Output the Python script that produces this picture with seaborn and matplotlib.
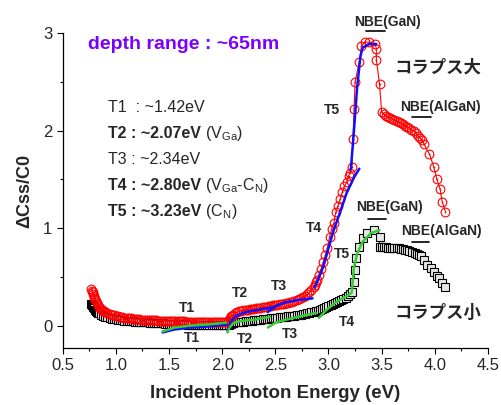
import matplotlib
matplotlib.use('Agg')
import matplotlib.pyplot as plt
import seaborn as sns

# collapse large (red circles)
E_red = [
    0.77, 0.775, 0.78, 0.785, 0.79, 0.795, 0.80, 0.81, 0.82, 0.83,
    0.84, 0.85, 0.86, 0.87, 0.88, 0.89, 0.90, 0.92, 0.94, 0.96,
    0.98, 1.00, 1.02, 1.04, 1.06, 1.08, 1.10, 1.12, 1.14, 1.16,
    1.18, 1.20, 1.22, 1.24, 1.26, 1.28, 1.30, 1.32, 1.34, 1.36,
    1.38, 1.40, 1.42, 1.44, 1.46, 1.48, 1.50, 1.52, 1.54, 1.56,
    1.58, 1.60, 1.62, 1.64, 1.66, 1.68, 1.70, 1.72, 1.74, 1.76,
    1.78, 1.80, 1.82, 1.84, 1.86, 1.88, 1.90, 1.92, 1.94, 1.96,
    1.98, 2.00, 2.02, 2.04, 2.05, 2.06, 2.07, 2.08, 2.09, 2.10,
    2.12, 2.14, 2.16, 2.18, 2.20, 2.22, 2.24, 2.26, 2.28, 2.30,
    2.32, 2.34, 2.36, 2.38, 2.40, 2.42, 2.44, 2.46, 2.48, 2.50,
    2.52, 2.54, 2.56, 2.58, 2.60, 2.62, 2.64, 2.66, 2.68, 2.70,
    2.72, 2.74, 2.76, 2.78, 2.80, 2.82, 2.84, 2.86, 2.87, 2.88,
    2.89, 2.91, 2.93, 2.95, 2.97, 2.99, 3.01, 3.03, 3.05, 3.07,
    3.09, 3.11, 3.13, 3.15, 3.17, 3.19, 3.20, 3.22, 3.23, 3.24,
    3.25, 3.29, 3.31, 3.34, 3.38, 3.44, 3.45, 3.45, 3.48, 3.50,
    3.52, 3.54, 3.56, 3.58, 3.60, 3.62, 3.64, 3.66, 3.68, 3.70,
    3.72, 3.74, 3.76, 3.78, 3.80, 3.82, 3.84, 3.86, 3.88, 3.90,
    3.95, 3.99, 4.02, 4.05, 4.07, 4.10]
y_red = [
    0.38, 0.36, 0.34, 0.32, 0.30, 0.285, 0.27, 0.25, 0.23, 0.21,
    0.195, 0.18, 0.17, 0.162, 0.155, 0.147, 0.14, 0.13, 0.12, 0.11,
    0.105, 0.10, 0.095, 0.09, 0.086, 0.082, 0.079, 0.076, 0.073, 0.071,
    0.068, 0.066, 0.064, 0.062, 0.061, 0.06, 0.058, 0.057, 0.055, 0.054,
    0.053, 0.052, 0.05, 0.049, 0.049, 0.048, 0.047, 0.047, 0.046, 0.045,
    0.045, 0.044, 0.043, 0.043, 0.042, 0.041, 0.041, 0.04, 0.04, 0.04,
    0.039, 0.038, 0.038, 0.038, 0.037, 0.037, 0.037, 0.036, 0.036, 0.036,
    0.035, 0.035, 0.035, 0.037, 0.045, 0.06, 0.08, 0.095, 0.103, 0.11,
    0.125, 0.135, 0.145, 0.152, 0.156, 0.16, 0.163, 0.166, 0.17, 0.173,
    0.177, 0.18, 0.183, 0.187, 0.19, 0.196, 0.201, 0.205, 0.208, 0.212,
    0.215, 0.218, 0.222, 0.225, 0.232, 0.237, 0.24, 0.247, 0.253, 0.26,
    0.27, 0.28, 0.29, 0.30, 0.32, 0.34, 0.365, 0.40, 0.42, 0.445,
    0.47, 0.52, 0.58, 0.65, 0.72, 0.80, 0.91, 0.99, 1.05, 1.17,
    1.23, 1.30, 1.37, 1.43, 1.47, 1.54, 1.57, 1.63, 1.91, 2.22,
    2.50, 2.71, 2.87, 2.91, 2.91, 2.89, 2.84, 2.73, 2.48, 2.19,
    2.17, 2.15, 2.14, 2.13, 2.12, 2.11, 2.10, 2.09, 2.08, 2.07,
    2.05, 2.04, 2.03, 2.01, 2.00, 1.98, 1.95, 1.93, 1.90, 1.86,
    1.76, 1.63, 1.50, 1.40, 1.27, 1.17]

# collapse small (black squares)
E_blk = [
    0.77, 0.775, 0.78, 0.785, 0.79, 0.80, 0.81, 0.82, 0.83, 0.84,
    0.86, 0.88, 0.90, 0.92, 0.94, 0.96, 0.98, 1.00, 1.02, 1.04,
    1.06, 1.08, 1.10, 1.12, 1.14, 1.16, 1.18, 1.20, 1.22, 1.24,
    1.26, 1.28, 1.30, 1.32, 1.34, 1.36, 1.38, 1.40, 1.42, 1.44,
    1.46, 1.48, 1.50, 1.52, 1.54, 1.56, 1.58, 1.60, 1.62, 1.64,
    1.66, 1.68, 1.70, 1.72, 1.74, 1.76, 1.78, 1.80, 1.82, 1.84,
    1.86, 1.88, 1.90, 1.92, 1.94, 1.96, 1.98, 2.00, 2.02, 2.04,
    2.06, 2.08, 2.10, 2.12, 2.14, 2.16, 2.18, 2.20, 2.22, 2.24,
    2.26, 2.28, 2.30, 2.32, 2.34, 2.36, 2.38, 2.40, 2.42, 2.44,
    2.46, 2.48, 2.50, 2.52, 2.54, 2.56, 2.58, 2.60, 2.62, 2.64,
    2.66, 2.68, 2.70, 2.72, 2.74, 2.76, 2.78, 2.80, 2.82, 2.84,
    2.86, 2.88, 2.90, 2.92, 2.94, 2.96, 2.98, 3.00, 3.02, 3.04,
    3.06, 3.08, 3.10, 3.12, 3.14, 3.16, 3.18, 3.20, 3.22, 3.24,
    3.25, 3.26, 3.29, 3.32, 3.36, 3.43, 3.48, 3.48, 3.50, 3.52,
    3.54, 3.56, 3.58, 3.60, 3.62, 3.64, 3.66, 3.68, 3.70, 3.72,
    3.74, 3.76, 3.79, 3.81, 3.83, 3.85, 3.87, 3.90, 3.93, 3.96,
    3.99, 4.02, 4.04, 4.07, 4.10]
y_blk = [
    0.22, 0.21, 0.20, 0.19, 0.18, 0.165, 0.15, 0.14, 0.13, 0.125,
    0.11, 0.10, 0.09, 0.084, 0.078, 0.072, 0.068, 0.065, 0.061, 0.058,
    0.055, 0.052, 0.05, 0.047, 0.045, 0.043, 0.041, 0.04, 0.038, 0.036,
    0.035, 0.033, 0.032, 0.03, 0.029, 0.027, 0.026, 0.025, 0.023, 0.022,
    0.021, 0.02, 0.019, 0.018, 0.017, 0.016, 0.015, 0.014, 0.013, 0.012,
    0.012, 0.011, 0.011, 0.01, 0.009, 0.008, 0.008, 0.007, 0.007, 0.006,
    0.006, 0.005, 0.005, 0.004, 0.004, 0.003, 0.003, 0.002, 0.002, 0.002,
    0.01, 0.02, 0.027, 0.032, 0.035, 0.037, 0.04, 0.042, 0.045, 0.047,
    0.05, 0.052, 0.055, 0.057, 0.06, 0.062, 0.065, 0.067, 0.07, 0.072,
    0.075, 0.077, 0.08, 0.082, 0.085, 0.087, 0.09, 0.092, 0.095, 0.097,
    0.10, 0.102, 0.105, 0.107, 0.11, 0.115, 0.12, 0.125, 0.13, 0.135,
    0.14, 0.145, 0.15, 0.16, 0.17, 0.18, 0.19, 0.20, 0.21, 0.22,
    0.23, 0.24, 0.25, 0.26, 0.27, 0.285, 0.30, 0.32, 0.35, 0.45,
    0.57, 0.69, 0.81, 0.90, 0.95, 0.98, 0.91, 0.81, 0.81, 0.81,
    0.81, 0.80, 0.80, 0.80, 0.80, 0.80, 0.80, 0.79, 0.79, 0.78,
    0.78, 0.77, 0.76, 0.75, 0.74, 0.725, 0.71, 0.67, 0.62, 0.59,
    0.55, 0.51, 0.49, 0.44, 0.40]

# fitted segments (blue -> red data, green -> black data)
blue_fits = [
    ([1.44, 1.55, 1.70, 1.85, 2.04], [-0.07, -0.04, -0.02, -0.01, 0.01]),
    ([2.05, 2.07, 2.09, 2.12, 2.17, 2.23, 2.33, 2.43, 2.50],
     [-0.05, 0.00, 0.05, 0.09, 0.12, 0.14, 0.16, 0.18, 0.19]),
    ([2.43, 2.50, 2.60, 2.70, 2.85], [0.14, 0.20, 0.24, 0.26, 0.28]),
    ([2.87, 2.95, 3.04, 3.12, 3.17, 3.24, 3.29], [0.39, 0.60, 0.95, 1.20, 1.36, 1.52, 1.61]),
    ([3.21, 3.24, 3.27, 3.30, 3.32, 3.38, 3.45], [1.60, 2.01, 2.45, 2.76, 2.85, 2.89, 2.89]),
]
green_fits = [
    ([1.44, 1.55, 1.70, 1.85, 2.04], [-0.06, -0.02, 0.00, 0.01, 0.03]),
    ([2.05, 2.07, 2.10, 2.14, 2.20, 2.30, 2.45], [-0.07, -0.02, 0.02, 0.04, 0.05, 0.06, 0.09]),
    ([2.43, 2.50, 2.60, 2.75, 2.88], [-0.02, 0.03, 0.06, 0.10, 0.13]),
    ([2.91, 2.99, 3.07, 3.15, 3.22], [0.08, 0.17, 0.24, 0.29, 0.34]),
    ([3.22, 3.24, 3.27, 3.32, 3.40, 3.48], [0.36, 0.60, 0.74, 0.86, 0.95, 0.98]),
]

sns.set_style('ticks')
plt.rcParams['font.family'] = ['Liberation Sans', 'DejaVu Sans']
plt.rcParams['mathtext.fontset'] = 'custom'
plt.rcParams['mathtext.rm'] = 'Liberation Sans'

fig = plt.figure(figsize=(5.02, 4.05), dpi=100)
ax = fig.add_axes([0.125, 0.1407, 0.847, 0.7771])

sns.lineplot(x=E_blk, y=y_blk, sort=False, estimator=None, ax=ax, color='black', lw=0.6,
             marker='s', markersize=5.2, markerfacecolor='#e6e6e6', markeredgecolor='black',
             markeredgewidth=0.8)
sns.lineplot(x=E_red, y=y_red, sort=False, estimator=None, ax=ax, color='red', lw=0.8,
             marker='o', markersize=6.3, markerfacecolor='none', markeredgecolor='red',
             markeredgewidth=0.8)
sns.scatterplot(x=E_red, y=y_red, ax=ax, color='red', s=1.5, linewidth=0)

for xs, ys in blue_fits:
    sns.lineplot(x=xs, y=ys, sort=False, estimator=None, ax=ax, color='#1010ff', lw=1.8)
for xs, ys in green_fits:
    sns.lineplot(x=xs, y=ys, sort=False, estimator=None, ax=ax, color='#33cc33', lw=1.8)

ax.set_xlim(0.5, 4.5)
ax.set_ylim(-0.23, 3.0)
ax.set_xticks([0.5, 1.0, 1.5, 2.0, 2.5, 3.0, 3.5, 4.0, 4.5])
ax.set_xticklabels(['0.5', '1.0', '1.5', '2.0', '2.5', '3.0', '3.5', '4.0', '4.5'])
ax.set_xticks([0.75, 1.25, 1.75, 2.25, 2.75, 3.25, 3.75, 4.25], minor=True)
ax.set_yticks([0, 1, 2, 3])
ax.set_yticks([0.5, 1.5, 2.5], minor=True)
ax.tick_params(which='major', direction='out', length=4, width=0.8, labelsize=12, color='black')
ax.tick_params(which='minor', direction='out', length=2.5, width=0.8, color='black')
for s in ['left', 'bottom']:
    ax.spines[s].set_linewidth(0.9)
    ax.spines[s].set_color('black')
sns.despine(ax=ax)

ax.set_xlabel('Incident Photon Energy (eV)', fontsize=13.5, fontweight='bold', labelpad=8)
ax.set_ylabel('ΔCss/C0', fontsize=13, fontweight='bold', labelpad=7)

ax.text(0.737, 2.886, 'depth range : ~65nm', color='#7a00ff', fontsize=14,
        fontweight='bold', ha='left', va='center')

# energy list
leg_x = 0.925
leg_y = [2.196, 1.929, 1.662, 1.394, 1.127]
leg_main = ['T1  : ~1.42eV', 'T2 : ~2.07eV', 'T3 : ~2.34eV', 'T4 : ~2.80eV', 'T5 : ~3.23eV']
leg_bold = [False, True, False, True, True]
leg_tail = ['', r' (V$_{\mathregular{Ga}}$)', '', r' (V$_{\mathregular{Ga}}$-C$_{\mathregular{N}}$)',
            r' (C$_{\mathregular{N}}$)']
heads = []
for main, yy, b in zip(leg_main, leg_y, leg_bold):
    heads.append(ax.text(leg_x, yy, main, fontsize=11.5, fontweight='bold' if b else 'normal',
                         ha='left', va='baseline'))
fig.canvas.draw()
inv = ax.transData.inverted()
for t, tail, yy in zip(heads, leg_tail, leg_y):
    if tail:
        bb = t.get_window_extent()
        x1 = inv.transform((bb.x1, bb.y0))[0]
        ax.text(x1, yy, tail, fontsize=11.5, ha='left', va='baseline')

# transition labels
for x, y, s in [(1.667, 0.18, 'T1'), (1.714, -0.125, 'T1'), (2.17, 0.334, 'T2'),
                (2.21, -0.135, 'T2'), (2.538, 0.406, 'T3'), (2.64, -0.087, 'T3'),
                (2.867, 1.003, 'T4'), (3.176, 0.036, 'T4'), (3.036, 2.217, 'T5'),
                (3.129, 0.736, 'T5')]:
    ax.text(x, y, s, fontsize=10, fontweight='bold', ha='center', va='center')

# NBE markers
for x, y, s, bx0, bx1, by in [(3.553, 3.12, 'NBE(GaN)', 3.355, 3.533, 3.02),
                             (4.05, 2.247, 'NBE(AlGaN)', 3.786, 3.964, 2.145),
                             (3.57, 1.219, 'NBE(GaN)', 3.373, 3.541, 1.096),
                             (4.058, 0.972, 'NBE(AlGaN)', 3.786, 3.946, 0.859)]:
    ax.text(x, y, s, fontsize=10, fontweight='bold', ha='center', va='center', clip_on=False)
    ax.plot([bx0, bx1], [by, by], color='black', lw=1.2, clip_on=False)

ax.text(3.62, 2.65, 'コラプス大', fontsize=12.5, fontweight='bold', ha='left', va='center',
        family=['Noto Sans CJK JP'])
ax.text(3.62, 0.129, 'コラプス小', fontsize=12.5, fontweight='bold', ha='left', va='center',
        family=['Noto Sans CJK JP'])

fig.savefig('out.png', dpi=100)
